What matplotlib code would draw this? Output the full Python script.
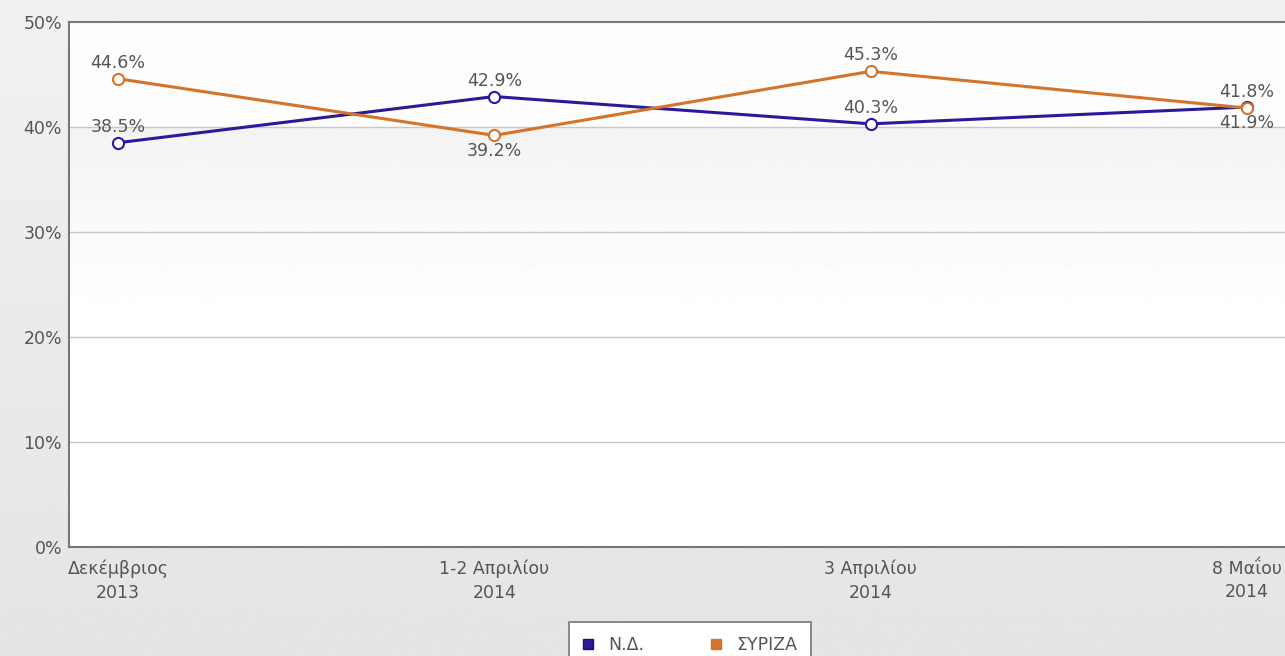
import numpy as np
import matplotlib
matplotlib.use("Agg")
import matplotlib.pyplot as plt
from matplotlib.lines import Line2D

# data
dates = ["Δεκέμβριος\n2013", "1-2 Απριλίου\n2014", "3 Απριλίου\n2014", "8 Μαΐου\n2014"]
nd = [38.5, 42.9, 40.3, 41.9]
syriza = [44.6, 39.2, 45.3, 41.8]
nd_pos = ["above", "above", "above", "below"]
syriza_pos = ["above", "below", "above", "above"]
yticks = [0, 10, 20, 30, 40, 50]

C_ND, C_SY, TXT = "#2a1a9a", "#d4732a", "#555555"
FS = 12.5
plt.rcParams["font.family"] = ["DejaVu Sans"]

W, H = 1285, 656
fig = plt.figure(figsize=(W / 100, H / 100), dpi=100)

# figure background gradient
bg = fig.add_axes([0, 0, 1, 1], zorder=-10)
g = np.linspace(0.945, 0.895, 256).reshape(-1, 1)
bg.imshow(g, cmap="gray", vmin=0, vmax=1, aspect="auto", extent=[0, 1, 0, 1])
bg.axis("off")

L, R, T, B = 69, 1296, 22, 547
ax = fig.add_axes([L / W, 1 - B / H, (R - L) / W, (B - T) / H])
x = np.arange(len(dates))
ax.set_xlim(-0.13, 3.13)
ax.set_ylim(0, 50)

# plot area shading: white above 40%, light grey step fading down
yy = np.linspace(50, 0, 400)
shade = np.where(yy > 40, 0.99, np.clip(0.955 + (40 - yy) / 18 * 0.045, 0.955, 1.0))
ax.imshow(shade.reshape(-1, 1), cmap="gray", vmin=0, vmax=1, aspect="auto",
          extent=[-0.13, 3.13, 0, 50], zorder=0)

for v in yticks[1:-1]:
    ax.axhline(v, color="#c8c8c8", lw=1, zorder=1)

ax.plot(x, nd, color=C_ND, lw=2.2, marker="o", ms=8, mfc="white", mec=C_ND, mew=1.5, zorder=3)
ax.plot(x, syriza, color=C_SY, lw=2.2, marker="o", ms=8, mfc="white", mec=C_SY, mew=1.5, zorder=4)

for vals, pos in ((nd, nd_pos), (syriza, syriza_pos)):
    for xi, v, p in zip(x, vals, pos):
        dy = 5 if p == "above" else -5
        ax.annotate(f"{v}%", (xi, v), xytext=(0, dy), textcoords="offset points",
                    ha="center", va="bottom" if p == "above" else "top",
                    fontsize=FS, color=TXT, zorder=5)

ax.set_yticks(yticks)
ax.set_yticklabels([f"{v}%" for v in yticks])
ax.set_xticks(x)
ax.set_xticklabels(dates, linespacing=1.4)
ax.tick_params(length=0, labelsize=FS, colors=TXT)
ax.tick_params(axis="y", pad=5)
ax.tick_params(axis="x", pad=9)
for s in ("left", "bottom", "top"):
    ax.spines[s].set_color("#777777")
    ax.spines[s].set_linewidth(1.5)
ax.spines["right"].set_visible(False)

handles = [Line2D([], [], ls="", marker="s", ms=7.5, color=C_ND, mec="#1a1070"),
           Line2D([], [], ls="", marker="s", ms=7.5, color=C_SY, mec=C_SY)]
leg = fig.legend(handles, ["Ν.Δ.", "ΣΥΡΙΖΑ"], loc="upper center", ncol=2,
                 bbox_to_anchor=(690 / W, 1 - 622 / H), borderaxespad=0,
                 frameon=True, fancybox=False, fontsize=FS, handlelength=0.6,
                 handletextpad=0.9, columnspacing=3.8, borderpad=0.8)
leg.get_frame().set_edgecolor("#777777")
leg.get_frame().set_facecolor("white")
leg.get_frame().set_alpha(1)
leg.get_frame().set_linewidth(1.2)
for t in leg.get_texts():
    t.set_color(TXT)

fig.savefig("out.png", dpi=100)
